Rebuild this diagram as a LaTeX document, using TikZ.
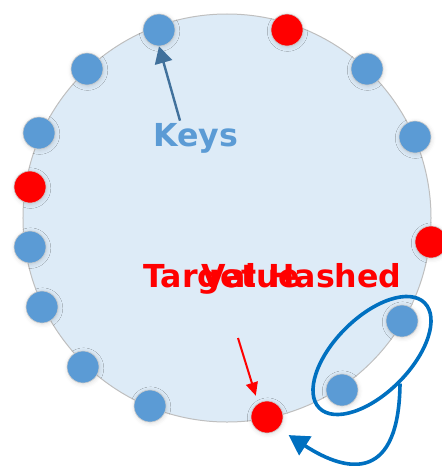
\documentclass[tikz,border=0pt]{standalone}
\usepackage{fontspec}
\setsansfont{DejaVu Sans}
\usepackage{xcolor}
\definecolor{KeyBlue}{HTML}{5B9BD5}
\definecolor{HitRed}{HTML}{FF0000}
\definecolor{RingFill}{HTML}{DDEBF7}
\definecolor{RingEdge}{HTML}{BFBFBF}
\definecolor{PointerBlue}{HTML}{41719C}
\definecolor{LoopBlue}{HTML}{0070C0}
\usepackage{tikz}
\usetikzlibrary{shapes.geometric, arrows.meta, positioning, calc, shadows.blur}

\begin{document}
\begin{tikzpicture}[
  x=0.25mm, y=-0.25mm,
  every node/.style={font=\sffamily\bfseries\fontsize{22.5}{26}\selectfont},
  ring/.style={
    circle, draw=RingEdge, line width=0.25mm, fill=RingFill,
    minimum size=102mm, inner sep=0pt},
  peer/.style={
    circle, draw=black!20, line width=0.15mm,
    minimum size=8mm, inner sep=0pt,
    blur shadow={shadow xshift=0.4pt, shadow yshift=-0.8pt, shadow blur radius=3pt, shadow opacity=14}},
  keydot/.style={peer, fill=KeyBlue},
  hitdot/.style={peer, fill=HitRed},
  pairring/.style={
    ellipse, draw=LoopBlue, line width=0.9mm,
    minimum width=37.2mm, minimum height=18.9mm, inner sep=0pt, rotate=45},
  lbl/.style={inner sep=0pt, anchor=base west},
  keyarr/.style={
    -{Triangle[length=4.2mm,width=4.4mm]},
    draw=PointerBlue, line width=0.6mm},
  hintarr/.style={
    -{Triangle[length=3.3mm,width=3mm]},
    draw=HitRed, line width=0.5mm},
  looparr/.style={
    -{Triangle[length=5mm,width=5.5mm]},
    draw=LoopBlue, line width=0.9mm},
]
\useasboundingbox (0,0) rectangle (442,466);

\node[ring] (ring) at (227,218) {};

% keys and hashed values on the ring
\node[keydot] (k1)  at (159,30)  {};
\node[hitdot] (h1)  at (287,30)  {};
\node[keydot] (k2)  at (87,69)   {};
\node[keydot] (k3)  at (367,69)  {};
\node[keydot] (k4)  at (39,133)  {};
\node[keydot] (k5)  at (415,137) {};
\node[hitdot] (h2)  at (30,187)  {};
\node[hitdot] (h3)  at (431,242) {};
\node[keydot] (k6)  at (30,247)  {};
\node[keydot] (k7)  at (42,307)  {};
\node[keydot] (k8)  at (83,367)  {};
\node[keydot] (k9)  at (150,406) {};
\node[hitdot] (tgt) at (267,417) {};
\node[keydot] (k10) at (342,390) {};
\node[keydot] (k11) at (402,321) {};

\node[lbl, text=KeyBlue] (keys) at (153,146) {Keys};
\node[lbl, text=HitRed] (target) at (143,287) {Target};
\node[lbl, text=HitRed] (value)  at (201,287) {Value};
\node[lbl, text=HitRed] (hashed) at (268,287) {Hashed};

\node[pairring] (pair) at ($(k10)!0.5!(k11)$) {};

\draw[keyarr] ($(keys.north west)+(27,-2)$) -- (k1.south);

\coordinate (hint) at (238,338);
\draw[hintarr, shorten >=2mm] (hint) -- (tgt.123);

\draw[looparr, shorten >=3mm]
  (pair.south) .. controls (399,480) and (350,475) .. (tgt.south east);

\end{tikzpicture}
\end{document}
